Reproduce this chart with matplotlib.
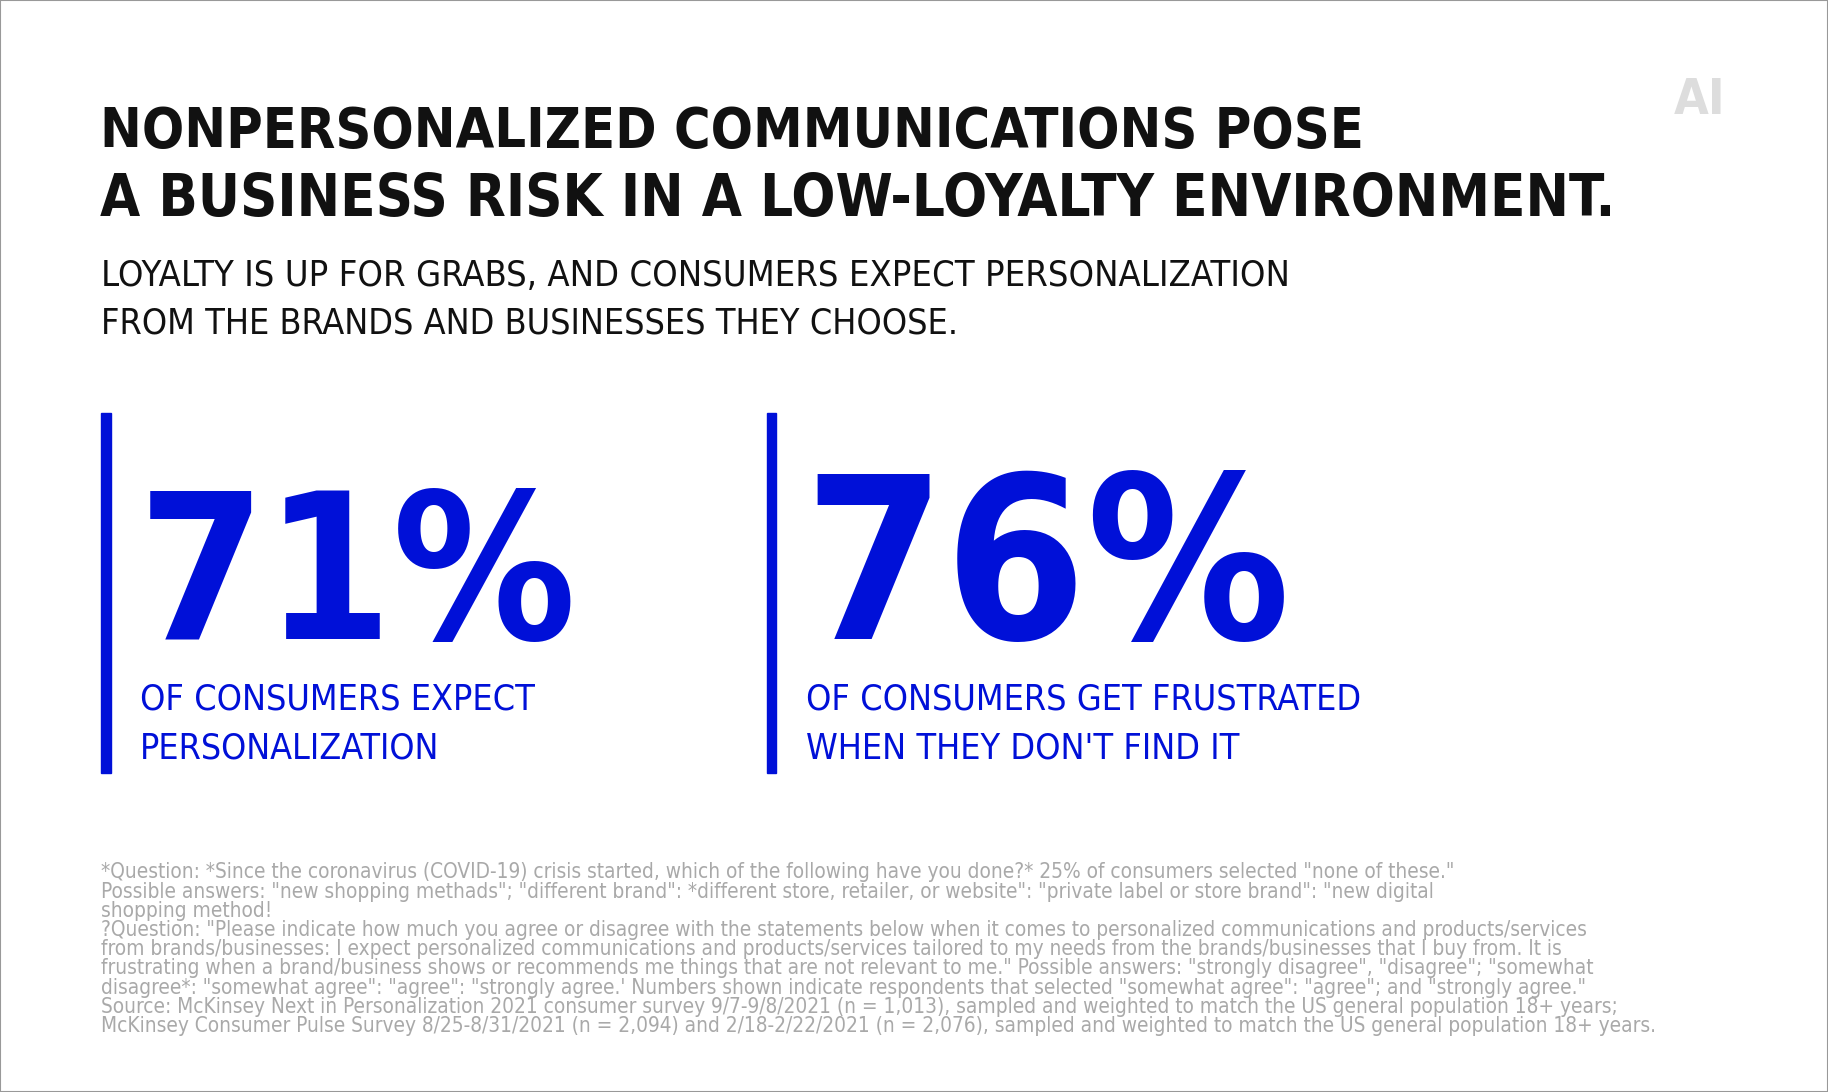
import matplotlib.pyplot as plt
from matplotlib.patches import Rectangle

W, H = 1568, 937  # reference layout space
BLUE = "#0010d8"
GREY = "#a9a9a9"

title_lines = ["NONPERSONALIZED COMMUNICATIONS POSE",
               "A BUSINESS RISK IN A LOW-LOYALTY ENVIRONMENT."]
subtitle_lines = ["LOYALTY IS UP FOR GRABS, AND CONSUMERS EXPECT PERSONALIZATION",
                  "FROM THE BRANDS AND BUSINESSES THEY CHOOSE."]
stat_values = [71, 76]
stat_labels = [["OF CONSUMERS EXPECT", "PERSONALIZATION"],
               ["OF CONSUMERS GET FRUSTRATED", "WHEN THEY DON'T FIND IT"]]
footnote = (
    '*Question: *Since the coronavirus (COVID-19) crisis started, which of the following have you done?* 25% of consumers selected "none of these."\n'
    'Possible answers: "new shopping methads"; "different brand": *different store, retailer, or website": "private label or store brand": "new digital\n'
    'shopping method!\n'
    '?Question: "Please indicate how much you agree or disagree with the statements below when it comes to personalized communications and products/services\n'
    'from brands/businesses: I expect personalized communications and products/services tailored to my needs from the brands/businesses that I buy from. It is\n'
    'frustrating when a brand/business shows or recommends me things that are not relevant to me." Possible answers: "strongly disagree", "disagree"; "somewhat\n'
    'disagree*: "somewhat agree": "agree": "strongly agree.\' Numbers shown indicate respondents that selected "somewhat agree": "agree"; and "strongly agree."\n'
    'Source: McKinsey Next in Personalization 2021 consumer survey 9/7-9/8/2021 (n = 1,013), sampled and weighted to match the US general population 18+ years;\n'
    'McKinsey Consumer Pulse Survey 8/25-8/31/2021 (n = 2,094) and 2/18-2/22/2021 (n = 2,076), sampled and weighted to match the US general population 18+ years.'
)

SCALE = 1828 / W


def fx(x):
    return x / W


def fy(y):
    return 1 - y / H


fig = plt.figure(figsize=(18.28, 10.92), dpi=100)
fig.patches.append(Rectangle((0, 0), 1, 1, transform=fig.transFigure,
                             fill=False, edgecolor="#999999", linewidth=1.5))
renderer = fig.canvas.get_renderer()


def fit(t, width_ref):
    # shrink the font until the text spans the same width as the reference
    w = t.get_window_extent(renderer).width
    t.set_fontsize(t.get_fontsize() * width_ref * SCALE / w)


cond = dict(family="DejaVu Sans", fontstretch="condensed")

widths = [1082, 1299]
for i, line in enumerate(title_lines):
    t = fig.text(fx(86), fy(126 + i * 59), line, fontsize=40, fontweight="bold",
                 color="#111111", va="baseline", **cond)
    fit(t, widths[i])

widths = [1015, 735]
for i, line in enumerate(subtitle_lines):
    t = fig.text(fx(87), fy(245 + i * 41), line, fontsize=30,
                 color="#111111", va="baseline", **cond)
    fit(t, widths[i])

t = fig.text(fx(1436), fy(98), "AI", fontsize=30, fontweight="bold",
             color="#dddddd", va="baseline", **cond)
fit(t, 44)

num_w = [377, 418]
lab_w = [[339, 257], [476, 372]]
for i, (v, lab) in enumerate(zip(stat_values, stat_labels)):
    x0 = 87 + i * 571
    fig.patches.append(Rectangle((fx(x0), fy(663)), fx(8), 309 / H,
                                 transform=fig.transFigure, color=BLUE))
    t = fig.text(fx(x0 + 31), fy(548), f"{v}%", fontsize=150, fontweight="heavy",
                 color=BLUE, va="baseline", **cond)
    fit(t, num_w[i])
    for j, line in enumerate(lab):
        t = fig.text(fx(x0 + 33), fy(609 + j * 42), line, fontsize=30,
                     color=BLUE, va="baseline", **cond)
        fit(t, lab_w[i][j])

t = fig.text(fx(87), fy(740), footnote, fontsize=13,
             color=GREY, va="top", linespacing=0.95, **cond)
w = t.get_window_extent(renderer).width
t.set_fontsize(t.get_fontsize() * 1334 * SCALE / w)

fig.savefig("out.png", dpi=100, facecolor="white")
